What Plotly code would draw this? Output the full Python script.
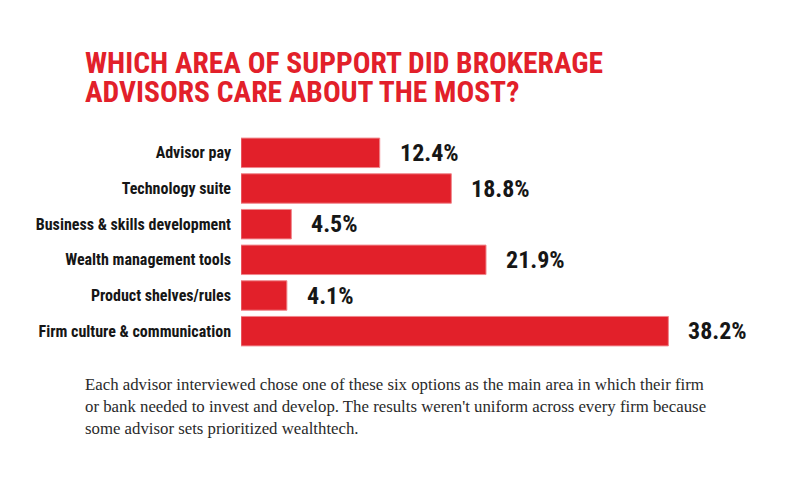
import plotly.graph_objects as go

categories = ["Advisor pay", "Technology suite", "Business & skills development",
              "Wealth management tools", "Product shelves/rules", "Firm culture & communication"]
values = [12.4, 18.8, 4.5, 21.9, 4.1, 38.2]
value_labels = ["12.4%", "18.8%", "4.5%", "21.9%", "4.1%", "38.2%"]

title_lines = ["WHICH AREA OF SUPPORT DID BROKERAGE", "ADVISORS CARE ABOUT THE MOST?"]
note_text = ("Each advisor interviewed chose one of these six options as the main area in which their firm<br>"
             "or bank needed to invest and develop. The results weren't uniform across every firm because<br>"
             "some advisor sets prioritized wealthtech.")

RED = "#E2202A"
COND = "Roboto Condensed, DejaVu Sans Condensed, sans-serif"

W, H = 800, 495
ml, mr, mt, mb = 240.7, 21.7, 135.1, 146.2
pw = W - ml - mr
ph = H - mt - mb


def px_x(x):
    return (x - ml) / pw


def px_y(y):
    return (H - mb - y) / ph


fig = go.Figure()
fig.add_trace(go.Bar(
    x=values, y=categories, orientation="h",
    marker=dict(color=RED, line=dict(color="#F0868C", width=1)),
    hoverinfo="skip",
))

for c, v, t in zip(categories, values, value_labels):
    fig.add_annotation(x=v, y=c, text="<b>" + t + "</b>", showarrow=False,
                       xanchor="left", yanchor="middle", xshift=18,
                       font=dict(family=COND, size=24, color="#161616"))

for i, (line, yc) in enumerate(zip(title_lines, [63.0, 92.5])):
    fig.add_annotation(xref="paper", yref="paper", x=px_x(83), y=px_y(yc),
                       text="<b>" + line + "</b>", showarrow=False,
                       xanchor="left", yanchor="middle", height=28, valign="middle",
                       font=dict(family=COND, size=29.5, color=RED))

fig.add_annotation(xref="paper", yref="paper", x=px_x(83), y=px_y(373),
                   text=note_text, showarrow=False, xanchor="left", yanchor="top", align="left",
                   font=dict(family="Liberation Serif, DejaVu Serif, serif", size=16.8, color="#2a2a2a"))

fig.update_layout(
    width=W, height=H,
    margin=dict(l=ml, r=mr, t=mt, b=mb, autoexpand=False),
    paper_bgcolor="white", plot_bgcolor="white",
    showlegend=False, bargap=0.174,
    xaxis=dict(range=[0, 48], visible=False, fixedrange=True),
    yaxis=dict(autorange="reversed", showgrid=False, zeroline=False, showline=False,
               ticks="", ticklabelstandoff=9, automargin=False, fixedrange=True,
               tickfont=dict(family=COND, size=16, color="#161616", weight="bold")),
)

fig.write_html("out.html", config={"displayModeBar": False, "staticPlot": True},
               post_script="document.body.style.margin='0';document.body.style.overflow='hidden';")
